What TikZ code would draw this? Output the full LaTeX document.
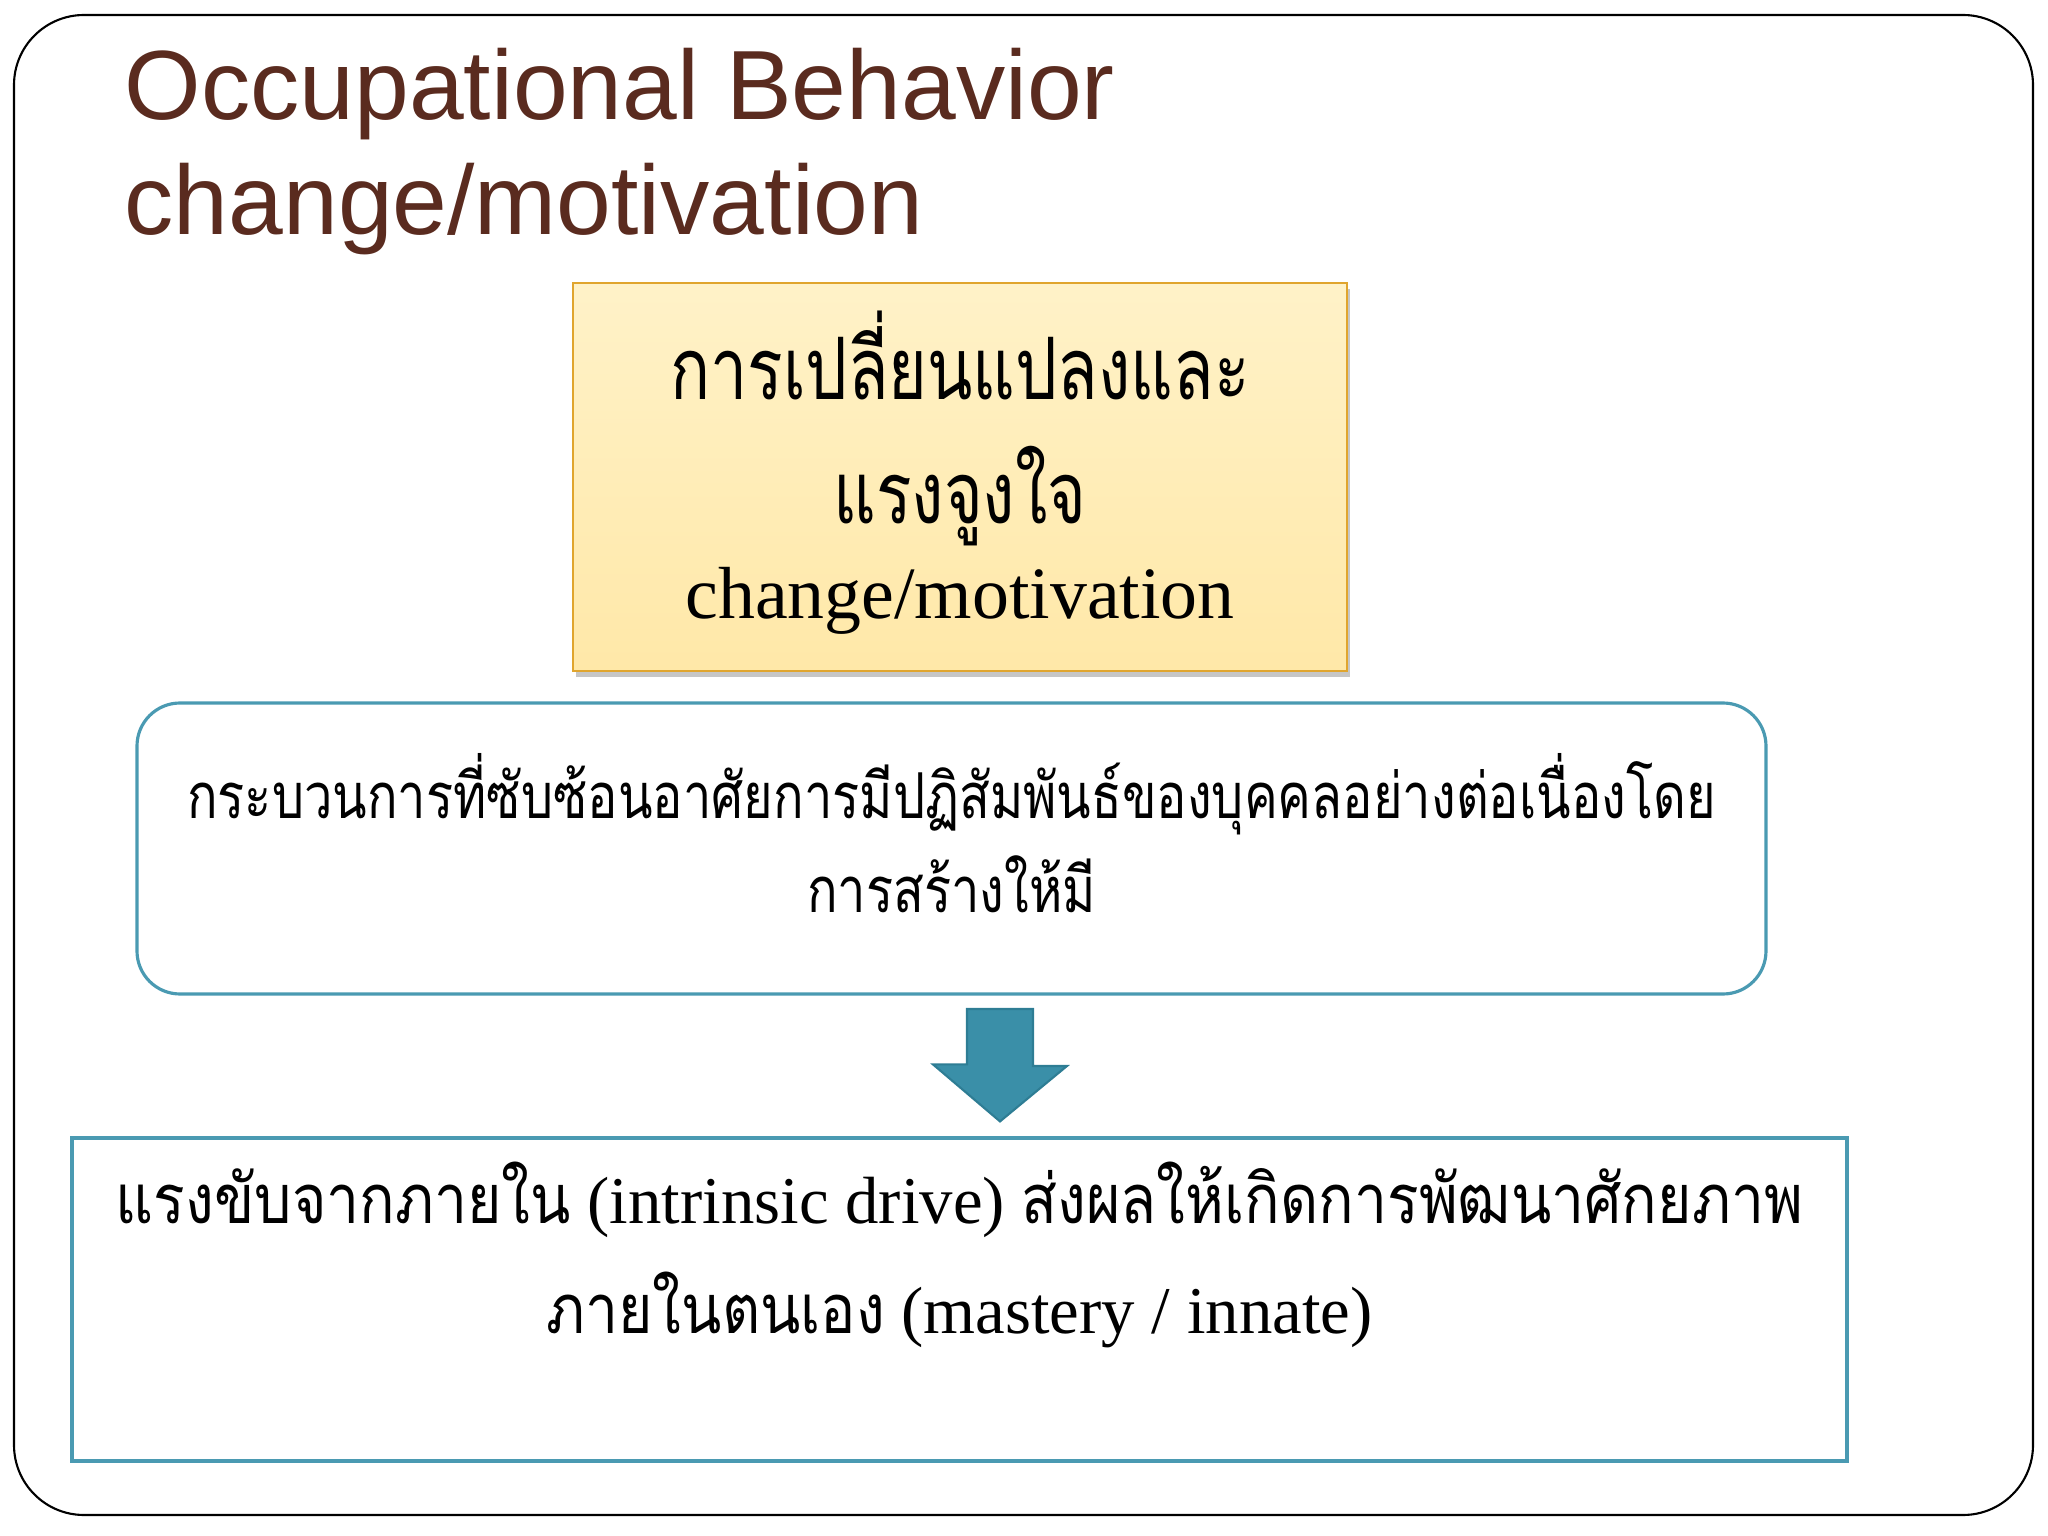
\documentclass[tikz,border=0pt]{standalone}
\usepackage{fontspec}
\setmainfont{Liberation Serif}
\newfontfamily\titlefont{Liberation Sans}
\newfontfamily\thaifont[Script=Thai,FakeStretch=0.77]{Loma}
\newfontfamily\thainarrow[Script=Thai,FakeStretch=0.8]{Loma}
\newfontfamily\thaimid[Script=Thai,FakeStretch=0.86]{Loma}
\usetikzlibrary{shadows,calc}
\tikzset{>=latex}
\definecolor{brown1}{HTML}{5A2B1F}
\definecolor{teal1}{HTML}{4A9AB2}
\definecolor{teal2}{HTML}{3A8FA8}
\definecolor{teal3}{HTML}{2E7D94}
\definecolor{gold1}{HTML}{E0A52E}
\definecolor{cream1}{HTML}{FFF2C8}
\definecolor{cream2}{HTML}{FFE8A8}
\tikzstyle{title}=[font=\titlefont\fontsize{28}{32}\selectfont,color=brown1,inner sep=0]
\tikzstyle{yellow box}=[draw=gold1,line width=0.7pt,top color=cream1,bottom color=cream2,
  drop shadow={shadow xshift=0.03cm,shadow yshift=-0.06cm,opacity=0.45},
  minimum width=7.74cm,minimum height=3.88cm]
\tikzstyle{round box}=[draw=teal1,line width=0.9pt,fill=white,rounded corners=0.43cm,
  minimum width=16.29cm,minimum height=2.91cm]
\tikzstyle{plain box}=[draw=teal1,line width=0.9pt,fill=white,minimum width=17.75cm,minimum height=3.23cm]
\tikzstyle{box text}=[anchor=base,align=center,inner sep=0]
\tikzstyle{block arrow}=[fill=teal2,draw=teal3,line width=0.6pt]

\begin{document}
\begin{tikzpicture}
  \useasboundingbox (0,0) rectangle (20.48,-15.36);
  \draw[line width=0.6pt,rounded corners=0.7cm] (0.14,-0.15) rectangle (20.33,-15.15);
  \node[title,anchor=base west] (title1) at (1.24,-1.20) {Occupational Behavior};
  \node[title,anchor=base west] (title2) at (1.24,-2.35) {change/motivation};
  \node[yellow box] (change) at (9.60,-4.77) {};
  \node[box text,font=\thaifont\fontsize{24.5}{35.3}\selectfont] (changetext) at ($(change.north)+(0,-3.37)$)
    {การเปลี่ยนแปลงและ\\ แรงจูงใจ\\[-8.2pt] {\rmfamily\fontsize{21}{25}\selectfont change/motivation}};
  \node[round box] (process) at (9.515,-8.485) {};
  \node[box text,font=\thainarrow\fontsize{18}{26.8}\selectfont] (processtext) at ($(process.north)+(0,-2.11)$)
    {กระบวนการที่ซับซ้อนอาศัยการมีปฏิสัมพันธ์ของบุคคลอย่างต่อเนื่องโดย\\ การสร้างให้มี};
  \node[plain box] (drive) at (9.595,-12.995) {};
  \node[box text,font=\fontsize{19}{31.3}\selectfont] (drivetext) at ($(drive.north)+(0,-1.97)$)
    {{\thaimid\fontsize{19.5}{31.3}\selectfont แรงขับจากภายใน} (intrinsic drive) {\thaimid\fontsize{19.5}{31.3}\selectfont ส่งผลให้เกิดการพัฒนาศักยภาพ}\\
     {\thaimid\fontsize{19.5}{31.3}\selectfont ภายในตนเอง} (mastery / innate)};
  \coordinate (tail) at (10.00,-10.09);
  \draw[block arrow] (tail) ++(-0.33,0) -- ++(0.66,0) -- ++(0,-0.57) -- ++(0.34,0)
    -- ($(tail |- drive.north)+(0,0.15)$) -- ++(-0.67,0.57) -- ++(0.34,0) -- cycle;
\end{tikzpicture}
\end{document}
